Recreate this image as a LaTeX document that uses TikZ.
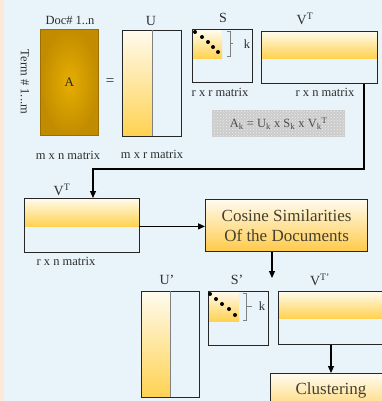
\documentclass[tikz,border=0pt]{standalone}
\usepackage{fontspec}
\setmainfont{Liberation Serif}
\usetikzlibrary{arrows.meta,patterns}
\definecolor{bg}{HTML}{E8F3FA}
\definecolor{peach}{HTML}{FDE8DA}
\definecolor{goldin}{HTML}{E6AE00}
\definecolor{goldout}{HTML}{C28C00}
\definecolor{ylight}{HTML}{FFFBEE}
\definecolor{ymid}{HTML}{FFE392}
\definecolor{ydark}{HTML}{FFD250}
\definecolor{txt}{HTML}{2E2E2E}
\definecolor{boxtxt}{HTML}{45402F}
\tikzset{
  mat/.style={draw=black!85, line width=1.2pt, inner sep=0pt, anchor=north west},
  band/.style={inner sep=0pt, anchor=north west, shading=axis, top color=ylight, middle color=ymid, bottom color=ydark},
  lbl/.style={font=\fontsize{12.5}{15}\selectfont, text=txt, inner sep=0pt},
  ttl/.style={font=\fontsize{14}{16}\selectfont, text=txt, inner sep=0pt},
  big/.style={font=\fontsize{17}{20}\selectfont, text=boxtxt, align=center},
  proc/.style={draw=black!85, line width=1.3pt, inner sep=0pt, anchor=north west, shading=axis, top color=ylight, bottom color=ydark!90!orange},
  conn/.style={draw=black, line width=1.2pt, -{Triangle[length=7pt,width=6pt]}},
  brk/.style={draw=gray, line width=0.6pt},
  dot/.style={circle, fill=black, inner sep=0pt, minimum size=4pt}
}
\begin{document}
\begin{tikzpicture}[x=1pt,y=-1pt]
\useasboundingbox (0,0) rectangle (382,401);
\clip (0,0) rectangle (382,401);
\fill[bg] (0,0) rectangle (382,401);
\fill[peach] (0,0) rectangle (4,401);

% A matrix
\node[lbl] (doc) at (70,20) {Doc\# 1..n};
\node[mat, draw=goldout!80!black, line width=0.6pt, shading=radial, inner color=goldin, outer color=goldout, minimum width=58pt, minimum height=106pt] (A) at (40,29) {};
\node[font=\fontsize{13}{14}\selectfont, text=black!85] (Alab) at (A.center) {A};
\node[lbl, rotate=-90] (term) at (25,82) {Term \# 1...m};
\node[lbl, font=\fontsize{15}{15}\selectfont] (eq) at (110,82) {=};
\node[lbl] (mxn) at (68,155) {m x n matrix};

% U
\node[band, minimum width=30pt, minimum height=106pt] (Uy) at (122,30) {};
\node[mat, minimum width=59pt, minimum height=106pt] (U) at (122,30) {};
\draw[gray, line width=0.8pt] (Uy.north east) -- (Uy.south east);
\node[ttl] (Ulab) at (151,21) {U};
\node[lbl] (mxr) at (152,154) {m x r matrix};

% S
\node[band, minimum width=29pt, minimum height=28pt] (Sy) at (193,30) {};
\node[mat, minimum width=60pt, minimum height=53pt] (S) at (192,29) {};
\node[ttl] (Slab) at (223,18) {S};
\foreach \i/\x/\y in {1/195/32,2/202/37,3/208/42,4/213/47,5/218/52} \node[dot] (sd\i) at (\x,\y) {};
\draw[brk] (227,31) -- (230,31) -- (230,56) -- (227,56);
\draw[brk] (230,43) -- (233,43);
\node[lbl] (Sk) at (247,44) {k};
\node[lbl] (rxr) at (220,92) {r x r matrix};

% V^T
\node[band, minimum width=116pt, minimum height=27pt] (Vy) at (261,31) {};
\node[mat, minimum width=116pt, minimum height=52pt] (V) at (261,31) {};
\node[ttl] (Vlab) at (305,19) {V\textsuperscript{T}};
\node[lbl] (rxn) at (325,92) {r x n matrix};

% formula
\node[inner sep=0pt, anchor=north west, minimum width=133pt, minimum height=27pt, fill=gray!40, postaction={pattern=crosshatch dots, pattern color=gray!15}] (F) at (212,110) {};
\node[font=\fontsize{12.5}{14}\selectfont, text=gray!60!black] (Ftxt) at (F.center) {A\textsubscript{k} = U\textsubscript{k} x S\textsubscript{k} x V\textsubscript{k}\textsuperscript{T}};

% V^T copy
\node[ttl] (V2lab) at (62,190) {V\textsuperscript{T}};
\node[band, minimum width=115pt, minimum height=28pt] (V2y) at (24,198) {};
\node[mat, minimum width=115pt, minimum height=54pt] (V2) at (24,198) {};
\node[lbl] (rxn2) at (66,261) {r x n matrix};

% connector
\coordinate (c1) at (364,169);
\coordinate (c2) at (93,169);
\draw[conn] (V.south -| c1) -- (c1) -- (c2) -- (V2.north -| c2);

% cosine
\node[proc, minimum width=162pt, minimum height=52pt] (cos) at (205,199) {};
\node[big] (costxt) at (cos.center) {Cosine Similarities\\Of the Documents};
\draw[conn] (V2y.south east) -- (V2y.south east -| cos.west);
\coordinate (ce) at (272,278);
\draw[conn] (cos.south -| ce) -- (ce);

% bottom matrices
\node[ttl] (U2lab) at (167,280) {U'};
\node[band, minimum width=29pt, minimum height=106pt] (U2y) at (141,291) {};
\node[mat, minimum width=58pt, minimum height=106pt] (U2) at (141,291) {};
\draw[gray, line width=0.8pt] (U2y.north east) -- (U2y.south east);

\node[ttl] (S2lab) at (237,280) {S'};
\node[band, minimum width=31pt, minimum height=30pt] (S2y) at (208,291) {};
\node[mat, minimum width=60pt, minimum height=54pt] (S2) at (208,291) {};
\foreach \i/\x/\y in {1/210/294,2/216/299,3/222/304,4/229/309,5/235/315} \node[dot] (td\i) at (\x,\y) {};
\draw[brk] (243,293) -- (246,293) -- (246,320) -- (243,320);
\draw[brk] (246,306) -- (252,306);
\node[lbl] (S2k) at (262,306) {k};

\node[ttl] (V3lab) at (320,280) {V\textsuperscript{T'}};
\node[band, minimum width=120pt, minimum height=27pt] (V3y) at (278,291) {};
\node[mat, minimum width=120pt, minimum height=53pt] (V3) at (278,291) {};

\node[proc, minimum width=122pt, minimum height=50pt] (clu) at (270,373) {};
\node[big] (clutxt) at (331,390) {Clustering};
\coordinate (ca) at (331,0);
\draw[conn] (V3.south -| ca) -- (clu.north -| ca);
\end{tikzpicture}
\end{document}
